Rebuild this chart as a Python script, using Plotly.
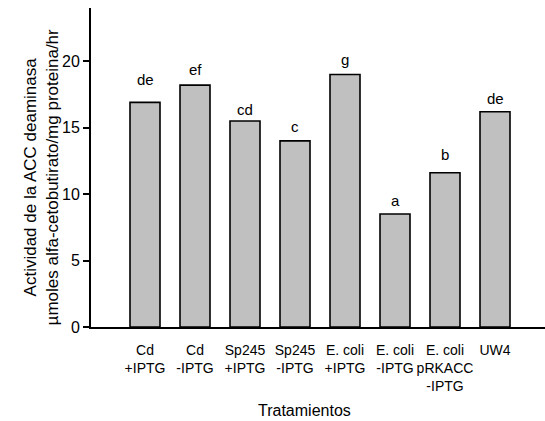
import plotly.graph_objects as go

categories = ["Cd<br>+IPTG", "Cd<br>-IPTG", "Sp245<br>+IPTG", "Sp245<br>-IPTG",
              "E. coli<br>+IPTG", "E. coli<br>-IPTG", "E. coli<br>pRKACC<br>-IPTG", "UW4"]
values = [16.9, 18.2, 15.5, 14.0, 19.0, 8.5, 11.6, 16.2]
letters = ["de", "ef", "cd", "c", "g", "a", "b", "de"]
letter_heights = [17.8, 18.6, 15.6, 14.3, 19.3, 8.7, 12.2, 16.4]

xs = list(range(len(categories)))
FONT = "Liberation Sans, Arial, sans-serif"

fig = go.Figure()
fig.add_trace(go.Bar(
    x=xs, y=values, width=0.6,
    marker=dict(color="#c0c0c0", line=dict(color="black", width=1.6)),
    hoverinfo="skip",
))
for x, h, t in zip(xs, letter_heights, letters):
    fig.add_annotation(x=x, y=h, text=t, showarrow=False, yanchor="bottom",
                       font=dict(size=15, color="black", family=FONT))

fig.add_annotation(xref="paper", yref="paper", x=0.47, y=-0.262, text="Tratamientos",
                   showarrow=False, yanchor="middle", font=dict(size=16, color="black", family=FONT))

fig.add_annotation(xref="paper", yref="paper", x=(41 - 91) / 454, y=0.469, textangle=-90,
                   text="Actividad de la ACC deaminasa<br>µmoles alfa-cetobutirato/mg proteina/hr",
                   showarrow=False, xanchor="center", yanchor="middle",
                   font=dict(size=17, color="black", family=FONT))

fig.update_layout(
    width=545, height=421,
    margin=dict(l=91, r=0, t=8, b=94),
    paper_bgcolor="white", plot_bgcolor="white",
    showlegend=False,
    font=dict(family=FONT, color="black"),
    bargap=0.4,
)
fig.update_xaxes(
    range=[-1.08, 8.0], tickmode="array", tickvals=xs, ticktext=categories, tickangle=0,
    showline=True, linecolor="black", linewidth=2, ticks="", showgrid=False, zeroline=False,
    tickfont=dict(size=14, family=FONT, color="black"), ticklabelstandoff=9,
)
fig.update_yaxes(
    range=[0, 24], tickvals=[0, 5, 10, 15, 20],
    showline=True, linecolor="black", linewidth=2, ticks="outside", ticklen=6, tickwidth=1.5,
    tickcolor="black", showgrid=False, zeroline=False,
    tickfont=dict(size=16, family=FONT, color="black"),
)
fig.write_html("out.html", config={"displayModeBar": False},
               post_script="document.body.style.margin='0';")
